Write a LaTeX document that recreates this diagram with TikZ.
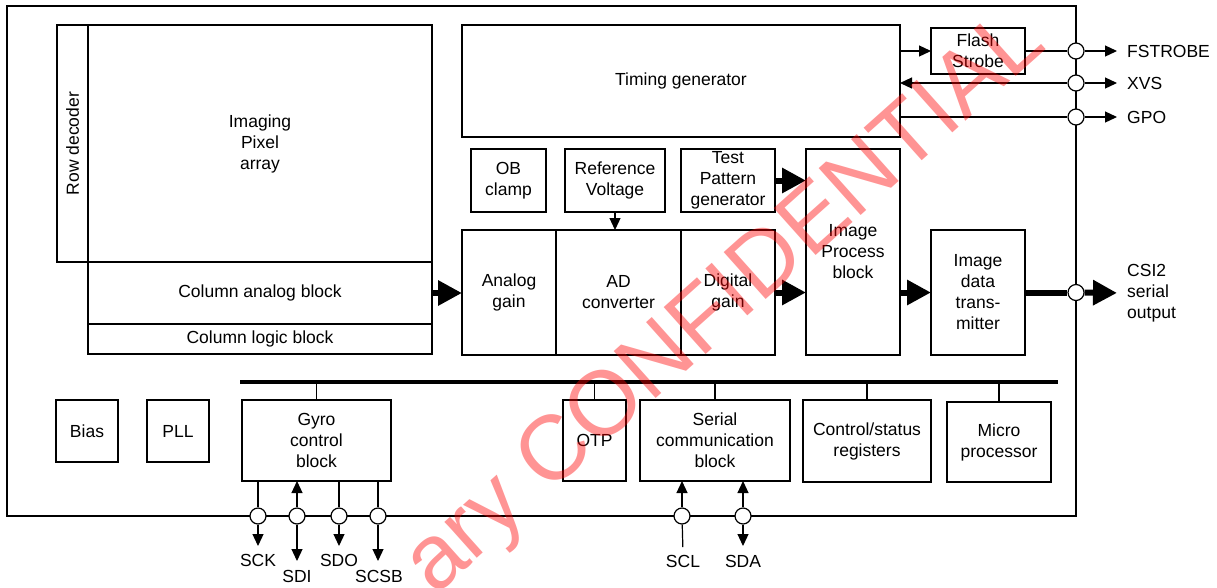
\documentclass[tikz,border=0pt]{standalone}
\usepackage{fontspec}
\setmainfont{Liberation Sans}
\usetikzlibrary{arrows.meta, positioning}

\begin{document}
\begin{tikzpicture}[x=1pt, y=-1pt, font=\fontsize{17.5}{21}\selectfont,
  b/.style={draw, line width=1.3pt, align=center, inner sep=1pt, outer sep=0pt},
  a/.style={-{Triangle[length=12pt, width=11pt]}, line width=1.2pt},
  ta/.style={-{Triangle[length=24pt, width=24pt]}, line width=6pt},
  pin/.style={circle, draw, line width=1.2pt, fill=white, minimum size=16pt, inner sep=0pt},
  lbl/.style={inner sep=2pt}]
\useasboundingbox (0,0) rectangle (1217,587);
% chip outline
\node[draw, line width=1.3pt, minimum width=1069, minimum height=510, anchor=north west,
      inner sep=0pt, outer sep=0pt] (chip) at (7,6) {};
% pixel array and column blocks
\node[b, minimum width=344, minimum height=237] (pix) at (260,143.5) {Imaging\\Pixel\\array};
\node[b, rotate=90, minimum width=237, minimum height=31] (rd) at (72.5,143.5) {Row decoder};
\node[b, minimum width=344, minimum height=62, below=0pt of pix] (cab) {Column analog block};
\node[b, minimum width=344, minimum height=30, below=0pt of cab] (clb) {Column logic block};
% timing and signal chain
\node[b, minimum width=438, minimum height=112] (tg) at (681,81) {Timing generator};
\node[b, minimum width=94, minimum height=46] (fs) at (978,51) {Flash\\Strobe};
\node[b, minimum width=75, minimum height=63] (ob) at (508.5,180.5) {OB\\clamp};
\node[b, minimum width=100, minimum height=63] (rv) at (615,180.5) {Reference\\Voltage};
\node[b, minimum width=94, minimum height=63] (tp) at (728,180.5) {Test\\Pattern\\generator};
\node[b, minimum width=94, minimum height=125] (ag) at (509,292.5) {Analog\\gain};
\node[b, minimum width=125, minimum height=125, right=0pt of ag] (ad) {AD\\converter};
\node[b, minimum width=94, minimum height=125, right=0pt of ad] (dg) {Digital\\gain};
\node[b, minimum width=94, minimum height=206] (ip) at (853,252) {Image\\Process\\block};
\node[b, minimum width=94, minimum height=125] (tx) at (978,292.5) {Image\\data\\trans-\\mitter};
% lower row
\node[b, minimum width=62, minimum height=62] (bias) at (87,431) {Bias};
\node[b, minimum width=62, minimum height=62] (pll) at (178,431) {PLL};
\node[b, minimum width=149, minimum height=81] (gy) at (316.5,440.5) {Gyro\\control\\block};
\node[b, minimum width=63, minimum height=81] (otp) at (594.5,440.5) {OTP};
\node[b, minimum width=150, minimum height=81] (sc) at (715,440.5) {Serial\\communication\\block};
\node[b, minimum width=128, minimum height=82] (cs) at (867,441) {Control/status\\registers};
\node[b, minimum width=104, minimum height=80] (mp) at (999,442) {Micro\\processor};
% pins
\node[pin] (pfs) at (chip.east |- fs) {};
\node[pin] (pxvs) at (1076,83) {};
\node[pin] (pgpo) at (1076,117) {};
\node[pin] (pcsi) at (chip.east |- tx) {};
\foreach \n/\x in {pck/258, pdi/297, pdo/339, pcb/378, pcl/682, psa/743}
  \node[pin] (\n) at (\x,516) {};
% pin labels
\node[lbl, anchor=west] (lfs) at (1125,51) {FSTROBE};
\node[lbl, anchor=west] (lxvs) at (1125,83) {XVS};
\node[lbl, anchor=west] (lgpo) at (1125,117) {GPO};
\node[lbl, anchor=west, align=left] (lcsi) at (1125,293) {CSI2\\serial\\output};
\node[lbl, anchor=north] (lck) at (258,552) {SCK};
\node[lbl, anchor=north] (ldi) at (297,568) {SDI};
\node[lbl, anchor=north] (ldo) at (339,552) {SDO};
\node[lbl, anchor=north] (lcb) at (379,568) {SCSB};
\node[lbl, anchor=north] (lcl) at (683,553) {SCL};
\node[lbl, anchor=north] (lsa) at (743,553) {SDA};
% timing generator I/O
\draw[a] (tg.east |- fs) -- (fs);
\draw[line width=1.2pt] (fs.east) -- (pfs);
\draw[a, shorten >=8pt] (pfs) -- (lfs.west);
\draw[a] (pxvs) -- (tg.east |- pxvs);
\draw[a, shorten >=8pt] (pxvs) -- (lxvs.west);
\draw[line width=1.2pt] (tg.east |- pgpo) -- (pgpo);
\draw[a, shorten >=8pt] (pgpo) -- (lgpo.west);
% data path
\draw[a] (rv.south) -- (rv.south |- ad.north);
\draw[ta] (cab.east) -- (ag.west |- cab.east);
\draw[ta] (tp.east) -- (ip.west |- tp.east);
\draw[ta] (dg.east) -- (ip.west |- dg.east);
\draw[ta] (ip.east |- tx) -- (tx.west);
\draw[line width=6pt] (tx.east) -- (pcsi);
\draw[ta, shorten >=8pt] (pcsi) -- (lcsi.west);
% internal bus
\coordinate (busl) at (240,382);
\coordinate (busr) at (1058,382);
\draw[line width=3.5pt] (busl) -- (busr);
\foreach \n in {gy, otp, sc, cs, mp}
  \draw[line width=1.2pt] (\n.north) -- (\n.north |- busl);
% gyro and serial pins
\draw[line width=1.2pt] (gy.south -| pck) -- (pck);
\draw[a, shorten >=6pt] (pck) -- (lck.north);
\draw[a] (pdi) -- (gy.south -| pdi);
\draw[a, shorten >=7pt] (pdi) -- (ldi.north);
\draw[line width=1.2pt] (gy.south -| pdo) -- (pdo);
\draw[a, shorten >=6pt] (pdo) -- (ldo.north);
\draw[line width=1.2pt] (gy.south -| pcb) -- (pcb);
\draw[a, shorten >=7pt] (pcb) -- (pcb |- lcb.north);
\draw[line width=1.2pt, shorten <=6pt] (lcl.north) -- (pcl);
\draw[a] (pcl) -- (sc.south -| pcl);
\draw[a] (psa) -- (sc.south -| psa);
\draw[a, shorten >=7pt] (psa) -- (lsa.north);
% watermark
\node[text=red, opacity=0.42, rotate=41.8, inner sep=0pt,
      font=\fontsize{91.5}{91.5}\selectfont] (wm) at (727,305) {ary CONFIDENTIAL};
\end{tikzpicture}
\end{document}
